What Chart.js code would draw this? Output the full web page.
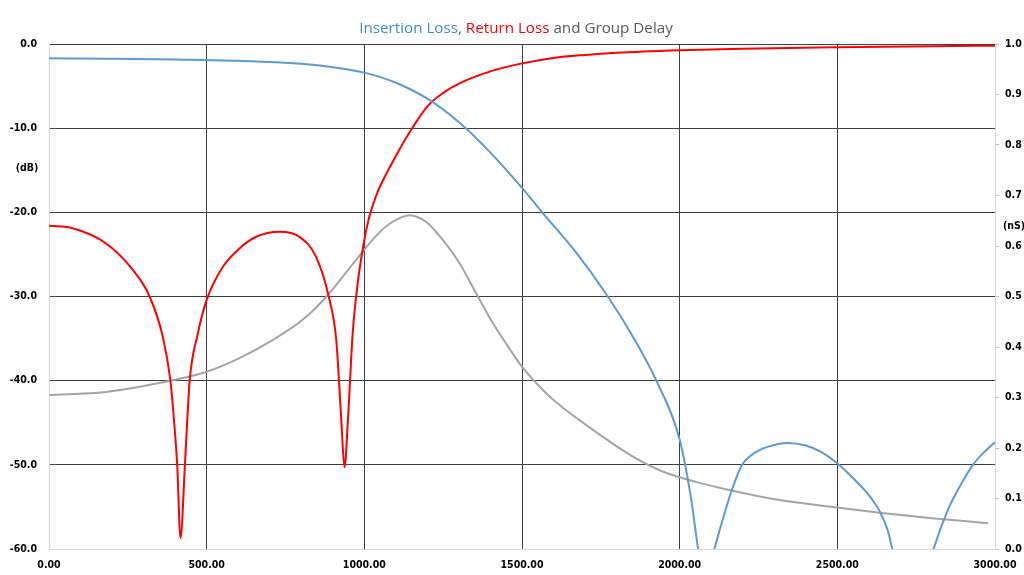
<!DOCTYPE html>
<html>
<head>
<meta charset="utf-8">
<script src="https://cdn.jsdelivr.net/npm/chart.js@4.4.1/dist/chart.umd.min.js"></script>
<style>
  html, body { margin: 0; padding: 0; background: #ffffff; }
  #wrap { position: relative; width: 1024px; height: 575px; }
  #title {
    position: absolute; left: 8px; width: 1016px; top: 17px;
    text-align: center; font-family: "Open Sans", sans-serif; font-size: 15.2px;
    line-height: 20px; color: #595959; white-space: nowrap;
  }
  #title .il { color: #3B8ED4; }
  #title .rl { color: #FF0000; }
</style>
</head>
<body>
<div id="wrap">
  <canvas id="chart" width="1024" height="575"></canvas>
  <div id="title"><span class="il">Insertion Loss</span>, <span class="rl">Return Loss</span> and Group Delay</div>
</div>
<script>
// Frequency axis and tick labels
const freqTicks = [0, 500, 1000, 1500, 2000, 2500, 3000];
const dbTicks = [-60, -50, -40, -30, -20, -10, 0];
const nsTicks = [0, 0.1, 0.2, 0.3, 0.4, 0.5, 0.6, 0.7, 0.8, 0.9, 1.0];

// Insertion loss (dB); the points below -60 sit in the two transmission nulls
const ilFreq = [0, 200, 400, 600, 800, 900, 1000, 1100, 1200, 1300, 1400, 1500, 1564, 1672, 1772, 1852, 1926, 2000, 2037, 2060, 2084, 2108, 2150, 2175, 2198, 2222, 2250, 2317, 2340, 2400, 2450, 2505, 2550, 2600, 2634, 2660, 2676, 2740, 2803, 2850, 2900, 2930, 2960, 3000];
const ilDb = [-1.7, -1.75, -1.85, -2.0, -2.35, -2.75, -3.4, -4.6, -6.5, -9.3, -12.9, -17.1, -20.0, -24.8, -30.0, -34.8, -40.0, -47.0, -54.2, -60.3, -64, -60.3, -54.8, -52.0, -50.0, -49.0, -48.3, -47.5, -47.4, -47.7, -48.5, -50.0, -51.6, -53.6, -55.5, -57.8, -60.3, -70, -60.3, -55.4, -51.8, -50.0, -48.7, -47.3];

// Return loss (dB)
const rlFreq = [0, 75, 181, 266, 319, 361, 385, 397, 406.5, 417, 431, 438, 446, 472, 500, 551, 604, 657, 731, 794, 847, 887, 911, 927, 937, 948, 963, 979, 998, 1016, 1038, 1050, 1100, 1150, 1200, 1250, 1300, 1400, 1500, 1600, 1700, 1800, 2000, 2200, 2500, 2800, 3000];
const rlDb = [-21.6, -21.9, -23.7, -26.85, -30.0, -34.8, -40.0, -45.0, -50.0, -58.7, -50.0, -45.0, -40.0, -34.4, -30.4, -26.5, -24.3, -22.9, -22.3, -22.9, -25.3, -30.0, -35.2, -44.7, -50.3, -44.7, -34.4, -28.4, -23.7, -20.5, -18.0, -16.9, -13.3, -10.1, -7.4, -5.8, -4.7, -3.25, -2.3, -1.65, -1.3, -1.05, -0.75, -0.55, -0.38, -0.27, -0.2];

// Group delay (nS)
const gdFreq = [0, 181, 384, 500, 604, 710, 816, 887, 953, 1000, 1048, 1090, 1143, 1170, 1196, 1249, 1302, 1355, 1408, 1460, 1500, 1566, 1619, 1725, 1831, 1889, 1940, 2000, 2063, 2150, 2317, 2500, 2634, 2800, 2978];
const gdNs = [0.305, 0.311, 0.333, 0.351, 0.378, 0.414, 0.46, 0.505, 0.556, 0.593, 0.627, 0.648, 0.661, 0.657, 0.648, 0.612, 0.566, 0.506, 0.447, 0.397, 0.361, 0.315, 0.285, 0.236, 0.191, 0.170, 0.155, 0.142, 0.131, 0.118, 0.097, 0.082, 0.072, 0.061, 0.051];

const toPoints = (xs, ys) => xs.map((x, i) => ({ x: x, y: ys[i] }));

const tickFont = { family: '"DejaVu Sans Condensed", "DejaVu Sans", sans-serif', size: 10.5, weight: 'bold' };
const gridDark = '#3f3f3f';
const axisLight = '#d9d9d9';
const clear = 'rgba(0,0,0,0)';

// Unit labels beside the two value axes
const unitLabels = {
  id: 'unitLabels',
  afterDraw(chart) {
    const ctx = chart.ctx;
    ctx.save();
    ctx.font = 'bold 10.5px "DejaVu Sans Condensed", "DejaVu Sans", sans-serif';
    ctx.fillStyle = '#000000';
    ctx.textAlign = 'center';
    ctx.textBaseline = 'middle';
    ctx.fillText('(dB)', 27, 168);
    ctx.fillText('(nS)', 1014, 226);
    ctx.restore();
  }
};

new Chart(document.getElementById('chart'), {
  type: 'line',
  data: {
    datasets: [
      {
        label: 'Insertion Loss',
        data: toPoints(ilFreq, ilDb),
        yAxisID: 'y',
        borderColor: '#5B9BD5',
        borderWidth: 2,
        pointRadius: 0,
        cubicInterpolationMode: 'monotone',
        order: 1
      },
      {
        label: 'Return Loss',
        data: toPoints(rlFreq, rlDb),
        yAxisID: 'y',
        borderColor: '#FF0000',
        borderWidth: 2,
        pointRadius: 0,
        cubicInterpolationMode: 'monotone',
        order: 2
      },
      {
        label: 'Group Delay',
        data: toPoints(gdFreq, gdNs),
        yAxisID: 'y2',
        borderColor: '#A5A5A5',
        borderWidth: 2,
        pointRadius: 0,
        cubicInterpolationMode: 'monotone',
        order: 3
      }
    ]
  },
  options: {
    responsive: false,
    animation: false,
    events: [],
    layout: { padding: { top: 44, left: 0, right: 0, bottom: 0 } },
    plugins: { legend: { display: false }, title: { display: false }, tooltip: { enabled: false } },
    scales: {
      x: {
        type: 'linear',
        position: 'bottom',
        min: 0,
        max: 3000,
        afterBuildTicks: s => { s.ticks = freqTicks.map(v => ({ value: v })); },
        afterFit: s => { s.height = 26; s.paddingLeft = 0; s.paddingRight = 0; },
        ticks: {
          font: tickFont, color: '#000000', padding: 10, maxRotation: 0,
          callback: v => Number(v).toFixed(2)
        },
        grid: {
          drawTicks: false,
          color: c => (c.tick && (c.tick.value === 0 || c.tick.value === 3000)) ? clear : gridDark
        },
        border: { color: axisLight, width: 1 }
      },
      y: {
        type: 'linear',
        position: 'left',
        min: -60,
        max: 0,
        afterBuildTicks: s => { s.ticks = dbTicks.map(v => ({ value: v })); },
        afterFit: s => { s.width = 49; },
        ticks: {
          font: tickFont, color: '#000000', padding: 12,
          callback: v => Number(v).toFixed(1)
        },
        grid: {
          drawTicks: false,
          color: c => (c.tick && c.tick.value === -60) ? clear : gridDark
        },
        border: { color: axisLight, width: 1 }
      },
      y2: {
        type: 'linear',
        position: 'right',
        min: 0,
        max: 1,
        afterBuildTicks: s => { s.ticks = nsTicks.map(v => ({ value: v })); },
        afterFit: s => { s.width = 29; },
        ticks: {
          font: tickFont, color: '#000000', padding: 6,
          callback: v => Number(v).toFixed(1)
        },
        grid: {
          drawOnChartArea: false,
          drawTicks: true,
          tickLength: 4,
          tickColor: '#bfbfbf'
        },
        border: { color: axisLight, width: 1 }
      }
    }
  },
  plugins: [unitLabels]
});
</script>
</body>
</html>
